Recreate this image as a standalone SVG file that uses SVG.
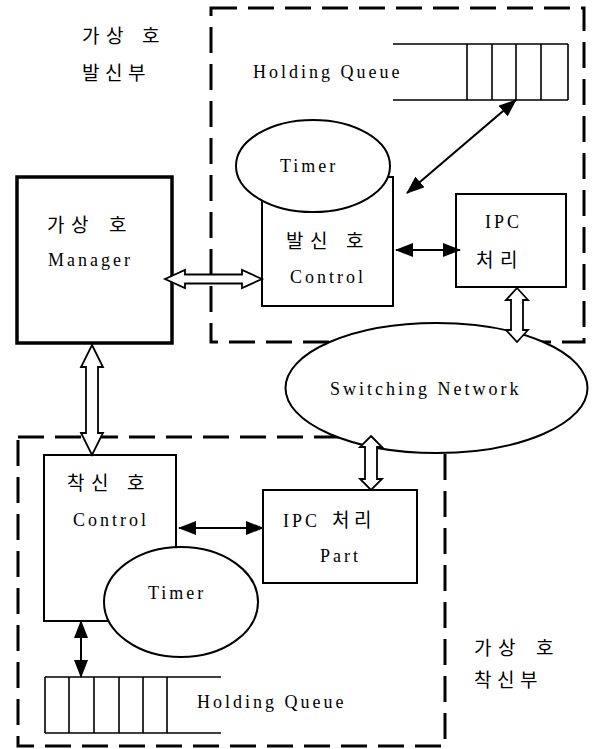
<svg xmlns="http://www.w3.org/2000/svg" width="592" height="749" viewBox="0 0 592 749">
  <style>
    text { font-family: "Liberation Serif", "Noto Sans CJK KR", serif; font-size: 18px; fill: #000; letter-spacing: 3px; }
    .ko { font-family: "Noto Sans CJK KR", "Liberation Serif", sans-serif; font-size: 19px; letter-spacing: 0; font-weight: 400; }
    .frame { fill: none; stroke: #000; stroke-width: 3; stroke-dasharray: 26 11; }
    .box { fill: #fff; stroke: #000; stroke-width: 2; }
    .thick { fill: #fff; stroke: #000; stroke-width: 3.5; }
    .oval { fill: #fff; stroke: #000; stroke-width: 2; }
    .q { fill: none; stroke: #000; stroke-width: 1.6; }
    .link { fill: none; stroke: #000; stroke-width: 2; marker-start: url(#tip); marker-end: url(#tip); }
    .hollow { fill: #fff; stroke: #000; stroke-width: 1.8; stroke-linejoin: miter; }
  </style>
  <defs>
    <marker id="tip" viewBox="0 0 18 14" refX="17" refY="7" markerWidth="18" markerHeight="14" markerUnits="userSpaceOnUse" orient="auto-start-reverse">
      <path d="M0,0 L18,7 L0,14 Z" fill="#000"/>
    </marker>
  </defs>

  <!-- region labels -->
  <g id="label-origin">
    <text class="ko" x="82 106 124 142" y="43">가상 호</text>
    <text class="ko" x="82 105 128" y="80">발신부</text>
  </g>
  <g id="label-terminate">
    <text class="ko" x="474 498 516 536" y="655">가상 호</text>
    <text class="ko" x="474 497 520" y="687">착신부</text>
  </g>

  <!-- dashed sub-system frames -->
  <g id="frame-origin">
    <rect class="frame" x="211" y="8" width="373" height="334"/>
  </g>
  <g id="frame-terminate">
    <rect class="frame" x="18" y="437" width="427" height="309"/>
  </g>

  <!-- manager -->
  <g id="manager">
    <rect class="thick" x="17" y="177" width="155" height="166"/>
    <text class="ko" x="47 71 91 109" y="232">가상 호</text>
    <text x="48" y="266">Manager</text>
  </g>

  <!-- origin side -->
  <g id="origin-queue">
    <path class="q" d="M393,44 H568 M393,100 H568 M467,44 V100 M492,44 V100 M516,44 V100 M541,44 V100 M568,44 V100"/>
    <text x="253" y="78">Holding Queue</text>
  </g>
  <g id="origin-control">
    <rect class="box" x="262" y="177" width="131" height="129"/>
    <text class="ko" x="286 310 328 346" y="248">발신 호</text>
    <text x="290" y="283">Control</text>
  </g>
  <g id="origin-timer">
    <ellipse class="oval" cx="313" cy="166" rx="77" ry="46"/>
    <text x="280" y="172">Timer</text>
  </g>
  <g id="origin-ipc">
    <rect class="box" x="456" y="194" width="110" height="93"/>
    <text x="485" y="228">IPC</text>
    <text class="ko" x="476 500" y="267">처리</text>
  </g>

  <!-- switching network -->
  <g id="switching-network">
    <ellipse class="oval" cx="436.5" cy="388" rx="151" ry="65" stroke-width="2.5"/>
    <text x="330" y="395">Switching Network</text>
  </g>

  <!-- terminate side -->
  <g id="terminate-control">
    <rect class="box" x="44" y="455" width="132" height="166"/>
    <text class="ko" x="67 91 109 127" y="490">착신 호</text>
    <text x="73" y="526">Control</text>
  </g>
  <g id="terminate-timer">
    <ellipse class="oval" cx="181" cy="602" rx="77" ry="55"/>
    <text x="148" y="599">Timer</text>
  </g>
  <g id="terminate-ipc">
    <rect class="box" x="263" y="490" width="154" height="93"/>
    <text x="283" y="527">IPC<tspan class="ko" x="332 354">처리</tspan></text>
    <text x="320" y="562">Part</text>
  </g>
  <g id="terminate-queue">
    <path class="q" d="M45,677 H221 M45,733 H221 M45,677 V733 M69,677 V733 M94,677 V733 M119,677 V733 M143,677 V733 M167,677 V733"/>
    <text x="197" y="708">Holding Queue</text>
  </g>

  <!-- connectors -->
  <g id="connectors">
    <line class="link" x1="516" y1="100" x2="407" y2="193"/>
    <line class="link" x1="396" y1="250" x2="460" y2="250"/>
    <line class="link" x1="179" y1="528" x2="263" y2="528"/>
    <line class="link" x1="81" y1="621" x2="81" y2="677"/>
    <path class="hollow" d="M165,279 L185,270 L185,274.5 L242,274.5 L242,270 L262,279 L242,288 L242,283.5 L185,283.5 L185,288 Z"/>
    <path class="hollow" d="M92,345 L103,367 L98,367 L98,433 L103,433 L92,455 L81,433 L86,433 L86,367 L81,367 Z"/>
    <path class="hollow" d="M517,288 L528,300 L523,300 L523,330 L528,330 L517,342 L506,330 L511,330 L511,300 L506,300 Z"/>
    <path class="hollow" d="M371,436 L382,447 L377,447 L377,479 L382,479 L371,490 L360,479 L365,479 L365,447 L360,447 Z"/>
  </g>
</svg>
